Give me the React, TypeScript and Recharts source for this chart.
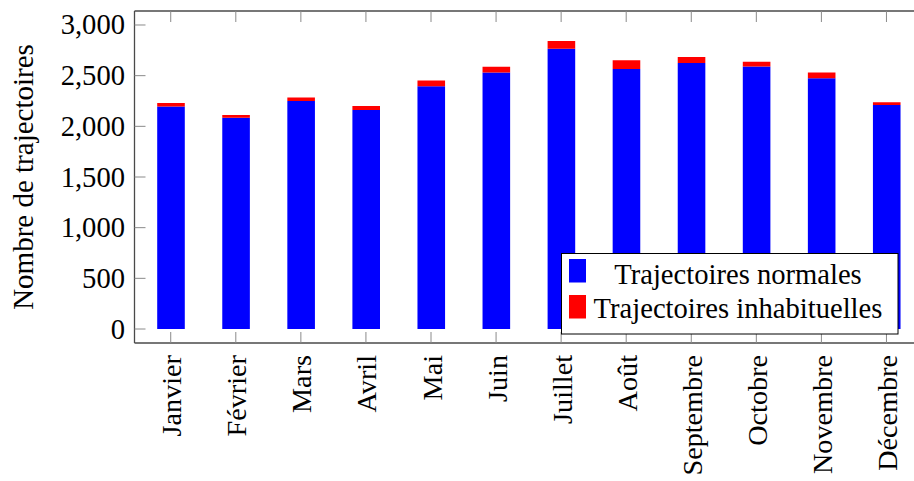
import { Bar, BarChart, XAxis, YAxis } from 'recharts';

const months = [
  'Janvier', 'Février', 'Mars', 'Avril', 'Mai', 'Juin',
  'Juillet', 'Août', 'Septembre', 'Octobre', 'Novembre', 'Décembre',
];
const normales = [2195, 2085, 2250, 2160, 2395, 2530, 2765, 2565, 2625, 2590, 2475, 2210];
const inhabituelles = [35, 28, 35, 40, 57, 58, 78, 86, 58, 46, 55, 27];
const seriesNames = ['Trajectoires normales', 'Trajectoires inhabituelles'];
const seriesColors = ['#0000ff', '#ff0000'];
const yTicks = [0, 500, 1000, 1500, 2000, 2500, 3000];
const yLabel = 'Nombre de trajectoires';

const rows = months.map((month, i) => ({
  month,
  normales: normales[i],
  inhabituelles: inhabituelles[i],
}));

const FONT = '"Liberation Serif", "Times New Roman", serif';
const FS = 28.6;
const FRAME = '#4a4a4a';
const TICK = '#8a8a8a';
const TL = 11;
// the right edge of the frame sits past the picture (cropped at 914)
const RIGHT_OVER = 8.7;
const domain: [number, number] = [-138, 3138];
const pad = { left: 3.7, right: 3.7 - RIGHT_OVER };

const fmt = (v: number) => v.toLocaleString('en-US');

function BottomTick(props: any) {
  const { x, y, payload } = props;
  const tx = x + 10.5;
  const ty = y + 12;
  return (
    <g>
      <line x1={x} y1={y} x2={x} y2={y - TL} stroke={TICK} strokeWidth={1} />
      <text
        x={tx}
        y={ty}
        transform={`rotate(-90 ${tx} ${ty})`}
        textAnchor="end"
        fontFamily={FONT}
        fontSize={28.2}
        fill="#000"
      >
        {payload.value}
      </text>
    </g>
  );
}

function TopTick(props: any) {
  const { x, y } = props;
  return <line x1={x} y1={y} x2={x} y2={y + TL} stroke={TICK} strokeWidth={1} />;
}

function LeftTick(props: any) {
  const { x, y, payload } = props;
  return (
    <g>
      <line x1={x} y1={y} x2={x + TL} y2={y} stroke={TICK} strokeWidth={1} />
      <text x={x - 9.5} y={y + 9.5} textAnchor="end" fontFamily={FONT} fontSize={FS} fill="#000">
        {fmt(payload.value)}
      </text>
    </g>
  );
}

function RightTick(props: any) {
  const { x, y } = props;
  const fx = x + RIGHT_OVER;
  return <line x1={fx} y1={y} x2={fx - TL} y2={y} stroke={TICK} strokeWidth={1} />;
}

function LegendBox() {
  return (
    <svg
      width={914}
      height={481}
      style={{ position: 'absolute', left: 0, top: 0, pointerEvents: 'none' }}
    >
      <rect x={561.5} y={253.5} width={336.5} height={80.5} fill="#fff" stroke="#000" strokeWidth={1} />
      {seriesNames.map((name, i) => (
        <g key={name}>
          <rect x={569} y={i === 0 ? 259 : 295} width={17} height={23.5} fill={seriesColors[i]} />
          <text
            x={738}
            y={i === 0 ? 284 : 318}
            textAnchor="middle"
            fontFamily={FONT}
            fontSize={FS}
            fill="#000"
          >
            {name}
          </text>
        </g>
      ))}
    </svg>
  );
}

export default function App() {
  return (
    <div style={{ position: 'relative', width: 914, height: 481, overflow: 'hidden', background: '#fff' }}>
      <style>{'html, body { margin: 0; padding: 0; }'}</style>
      <BarChart
        width={914}
        height={481}
        data={rows}
        margin={{ top: 0, right: 0, bottom: 0, left: 0 }}
        barCategoryGap={0}
      >
        <XAxis
          dataKey="month"
          height={138}
          padding={pad}
          interval={0}
          tickSize={0}
          tickMargin={0}
          tickLine={false}
          axisLine={{ stroke: FRAME, strokeWidth: 1.3 }}
          tick={<BottomTick />}
        />
        <XAxis
          xAxisId="top"
          orientation="top"
          dataKey="month"
          height={11}
          padding={pad}
          interval={0}
          tickSize={0}
          tickMargin={0}
          tickLine={false}
          axisLine={{ stroke: FRAME, strokeWidth: 1.3 }}
          tick={<TopTick />}
        />
        <YAxis
          width={134.5}
          domain={domain}
          allowDataOverflow
          ticks={yTicks}
          interval={0}
          tickSize={0}
          tickMargin={0}
          tickLine={false}
          axisLine={{ stroke: FRAME, strokeWidth: 1.3 }}
          tick={<LeftTick />}
        />
        <YAxis
          yAxisId="right"
          orientation="right"
          width={0}
          domain={domain}
          allowDataOverflow
          ticks={yTicks}
          interval={0}
          tickSize={0}
          tickMargin={0}
          tickLine={false}
          axisLine={false}
          tick={<RightTick />}
        />
        <Bar
          dataKey="normales"
          name={seriesNames[0]}
          stackId="a"
          fill={seriesColors[0]}
          barSize={27.6}
          isAnimationActive={false}
        />
        <Bar
          dataKey="inhabituelles"
          name={seriesNames[1]}
          stackId="a"
          fill={seriesColors[1]}
          barSize={27.6}
          isAnimationActive={false}
        />
        <text
          x={33}
          y={177}
          transform="rotate(-90 33 177)"
          textAnchor="middle"
          fontFamily={FONT}
          fontSize={29}
          fill="#000"
        >
          {yLabel}
        </text>
      </BarChart>
      <LegendBox />
    </div>
  );
}
